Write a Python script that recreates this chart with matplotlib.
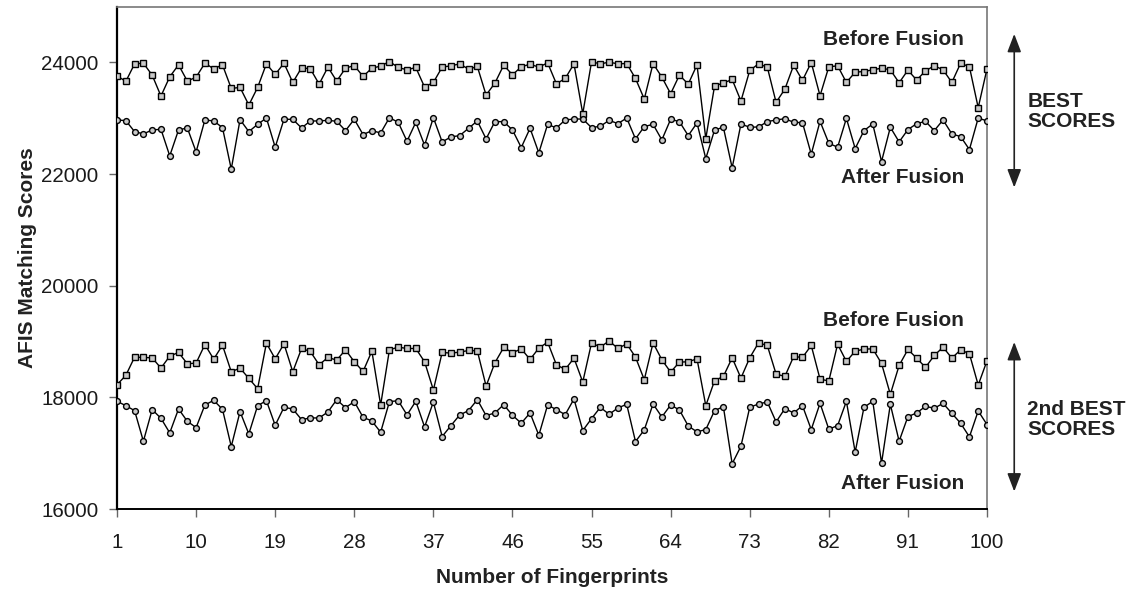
import matplotlib
matplotlib.use("Agg")
import matplotlib.pyplot as plt

plt.rcParams['font.family'] = ['Liberation Sans', 'DejaVu Sans']

fingerprints = list(range(1, 101))

best_before = [
    23760, 23658, 23973, 23985, 23771, 23396, 23741, 23955, 23664, 23735,
    23985, 23884, 23955, 23533, 23551, 23235, 23551, 23973, 23783, 23985,
    23640, 23902, 23884, 23610, 23914, 23664, 23896, 23943, 23747, 23896,
    23932, 24015, 23908, 23866, 23908, 23557, 23640, 23914, 23938, 23973,
    23878, 23926, 23414, 23628, 23949, 23777, 23920, 23967, 23914, 23991,
    23616, 23711, 23973, 23081, 24009, 23973, 24003, 23973, 23979, 23711,
    23343, 23979, 23735, 23438, 23771, 23610, 23955, 22634, 23580, 23628,
    23694, 23307, 23854, 23973, 23914, 23283, 23521, 23949, 23676, 23997,
    23402, 23920, 23938, 23640, 23824, 23836, 23866, 23896, 23866, 23634,
    23860, 23682, 23848, 23938, 23866, 23640, 23985, 23920, 23188, 23884,
]

best_after = [
    22968, 22956, 22759, 22718, 22789, 22801, 22325, 22789, 22825, 22396,
    22968, 22950, 22831, 22087, 22974, 22759, 22890, 23003, 22480, 22980,
    22980, 22825, 22950, 22950, 22962, 22944, 22777, 22980, 22706, 22777,
    22735, 23009, 22926, 22587, 22926, 22515, 23009, 22575, 22664, 22688,
    22819, 22950, 22629, 22938, 22938, 22789, 22474, 22819, 22379, 22890,
    22825, 22968, 22985, 22985, 22831, 22855, 22962, 22902, 23003, 22629,
    22849, 22890, 22611, 22980, 22938, 22688, 22914, 22277, 22789, 22837,
    22111, 22896, 22837, 22843, 22938, 22968, 22991, 22926, 22920, 22355,
    22944, 22551, 22480, 22997, 22456, 22777, 22896, 22224, 22837, 22575,
    22795, 22902, 22944, 22777, 22968, 22718, 22670, 22438, 23003, 22950,
]

second_before = [
    18226, 18393, 18720, 18714, 18708, 18524, 18738, 18804, 18601, 18613,
    18946, 18684, 18934, 18458, 18524, 18339, 18155, 18970, 18690, 18958,
    18458, 18875, 18821, 18583, 18714, 18667, 18851, 18637, 18464, 18827,
    17863, 18851, 18899, 18875, 18875, 18637, 18131, 18804, 18792, 18810,
    18839, 18833, 18202, 18619, 18893, 18798, 18869, 18679, 18881, 18988,
    18583, 18500, 18702, 18274, 18976, 18899, 19012, 18875, 18958, 18720,
    18315, 18976, 18673, 18452, 18631, 18637, 18690, 17851, 18298, 18375,
    18708, 18345, 18708, 18976, 18929, 18417, 18375, 18732, 18714, 18929,
    18327, 18292, 18952, 18643, 18827, 18863, 18869, 18607, 18054, 18571,
    18857, 18702, 18536, 18750, 18899, 18702, 18851, 18780, 18220, 18655,
]

second_after = [
    17929, 17851, 17762, 17214, 17780, 17625, 17363, 17792, 17571, 17458,
    17863, 17946, 17786, 17119, 17744, 17345, 17851, 17940, 17500, 17821,
    17792, 17601, 17631, 17631, 17738, 17958, 17815, 17923, 17643, 17577,
    17375, 17923, 17940, 17685, 17929, 17470, 17917, 17298, 17494, 17685,
    17762, 17958, 17673, 17720, 17869, 17679, 17536, 17720, 17321, 17863,
    17780, 17690, 17970, 17405, 17619, 17821, 17696, 17810, 17875, 17208,
    17417, 17881, 17649, 17863, 17774, 17488, 17381, 17423, 17762, 17833,
    16810, 17125, 17821, 17881, 17917, 17560, 17798, 17720, 17851, 17423,
    17893, 17429, 17494, 17929, 17018, 17821, 17929, 16821, 17875, 17214,
    17655, 17720, 17839, 17804, 17893, 17714, 17536, 17292, 17756, 17512,
]

x_ticks = [1, 10, 19, 28, 37, 46, 55, 64, 73, 82, 91, 100]
y_ticks = [16000, 18000, 20000, 22000, 24000]

fig = plt.figure(figsize=(11.35, 5.92), dpi=100)
ax = fig.add_axes([0.1031, 0.1402, 0.7665, 0.8488])

line_kw = dict(color='black', lw=1.0, markeredgecolor='black',
               markerfacecolor='#c8c8c8', markeredgewidth=1.0, zorder=3)
ax.plot(fingerprints, best_before, marker='s', markersize=4.2, **line_kw)
ax.plot(fingerprints, best_after, marker='o', markersize=4.2, **line_kw)
ax.plot(fingerprints, second_before, marker='s', markersize=4.2, **line_kw)
ax.plot(fingerprints, second_after, marker='o', markersize=4.2, **line_kw)

ax.set_xlim(1, 100)
ax.set_ylim(16000, 25000)
ax.set_xticks(x_ticks)
ax.set_yticks(y_ticks)
ax.tick_params(axis='both', direction='out', length=6, width=1,
               color='#666666', labelsize=14.8)
ax.tick_params(axis='x', pad=11)
ax.tick_params(axis='y', pad=7.5)
for lab in ax.get_xticklabels() + ax.get_yticklabels():
    lab.set_color('#1a1a1a')

ax.spines['left'].set_color('black')
ax.spines['left'].set_linewidth(1.6)
ax.spines['bottom'].set_color('black')
ax.spines['bottom'].set_linewidth(1.4)
ax.spines['top'].set_color('#777777')
ax.spines['top'].set_linewidth(1.2)
ax.spines['right'].set_color('#777777')
ax.spines['right'].set_linewidth(1.2)

bold = dict(fontsize=15, fontweight='bold', color='#222222')
ax.set_xlabel('Number of Fingerprints', labelpad=12, **bold)
ax.set_ylabel('AFIS Matching Scores', labelpad=3, **bold)

# series annotations
ax.text(97.4, 24402, 'Before Fusion', ha='right', va='center', **bold)
ax.text(97.4, 21943, 'After Fusion', ha='right', va='center', **bold)
ax.text(97.4, 19371, 'Before Fusion', ha='right', va='center', **bold)
ax.text(97.4, 16455, 'After Fusion', ha='right', va='center', **bold)

arrow_kw = dict(arrowstyle='<|-|>,head_length=1.1,head_width=0.42',
                color='#222222', lw=1.2, shrinkA=0, shrinkB=0)
ax.annotate('', xy=(103.1, 24509), xytext=(103.1, 21759),
            arrowprops=arrow_kw, annotation_clip=False)
ax.annotate('', xy=(103.1, 18991), xytext=(103.1, 16313),
            arrowprops=arrow_kw, annotation_clip=False)

ax.text(104.6, 23116, 'BEST\nSCORES', ha='left', va='center',
        linespacing=1.05, clip_on=False, **bold)
ax.text(104.6, 17600, '2nd BEST\nSCORES', ha='left', va='center',
        linespacing=1.05, clip_on=False, **bold)

fig.savefig('out.png', dpi=100)
